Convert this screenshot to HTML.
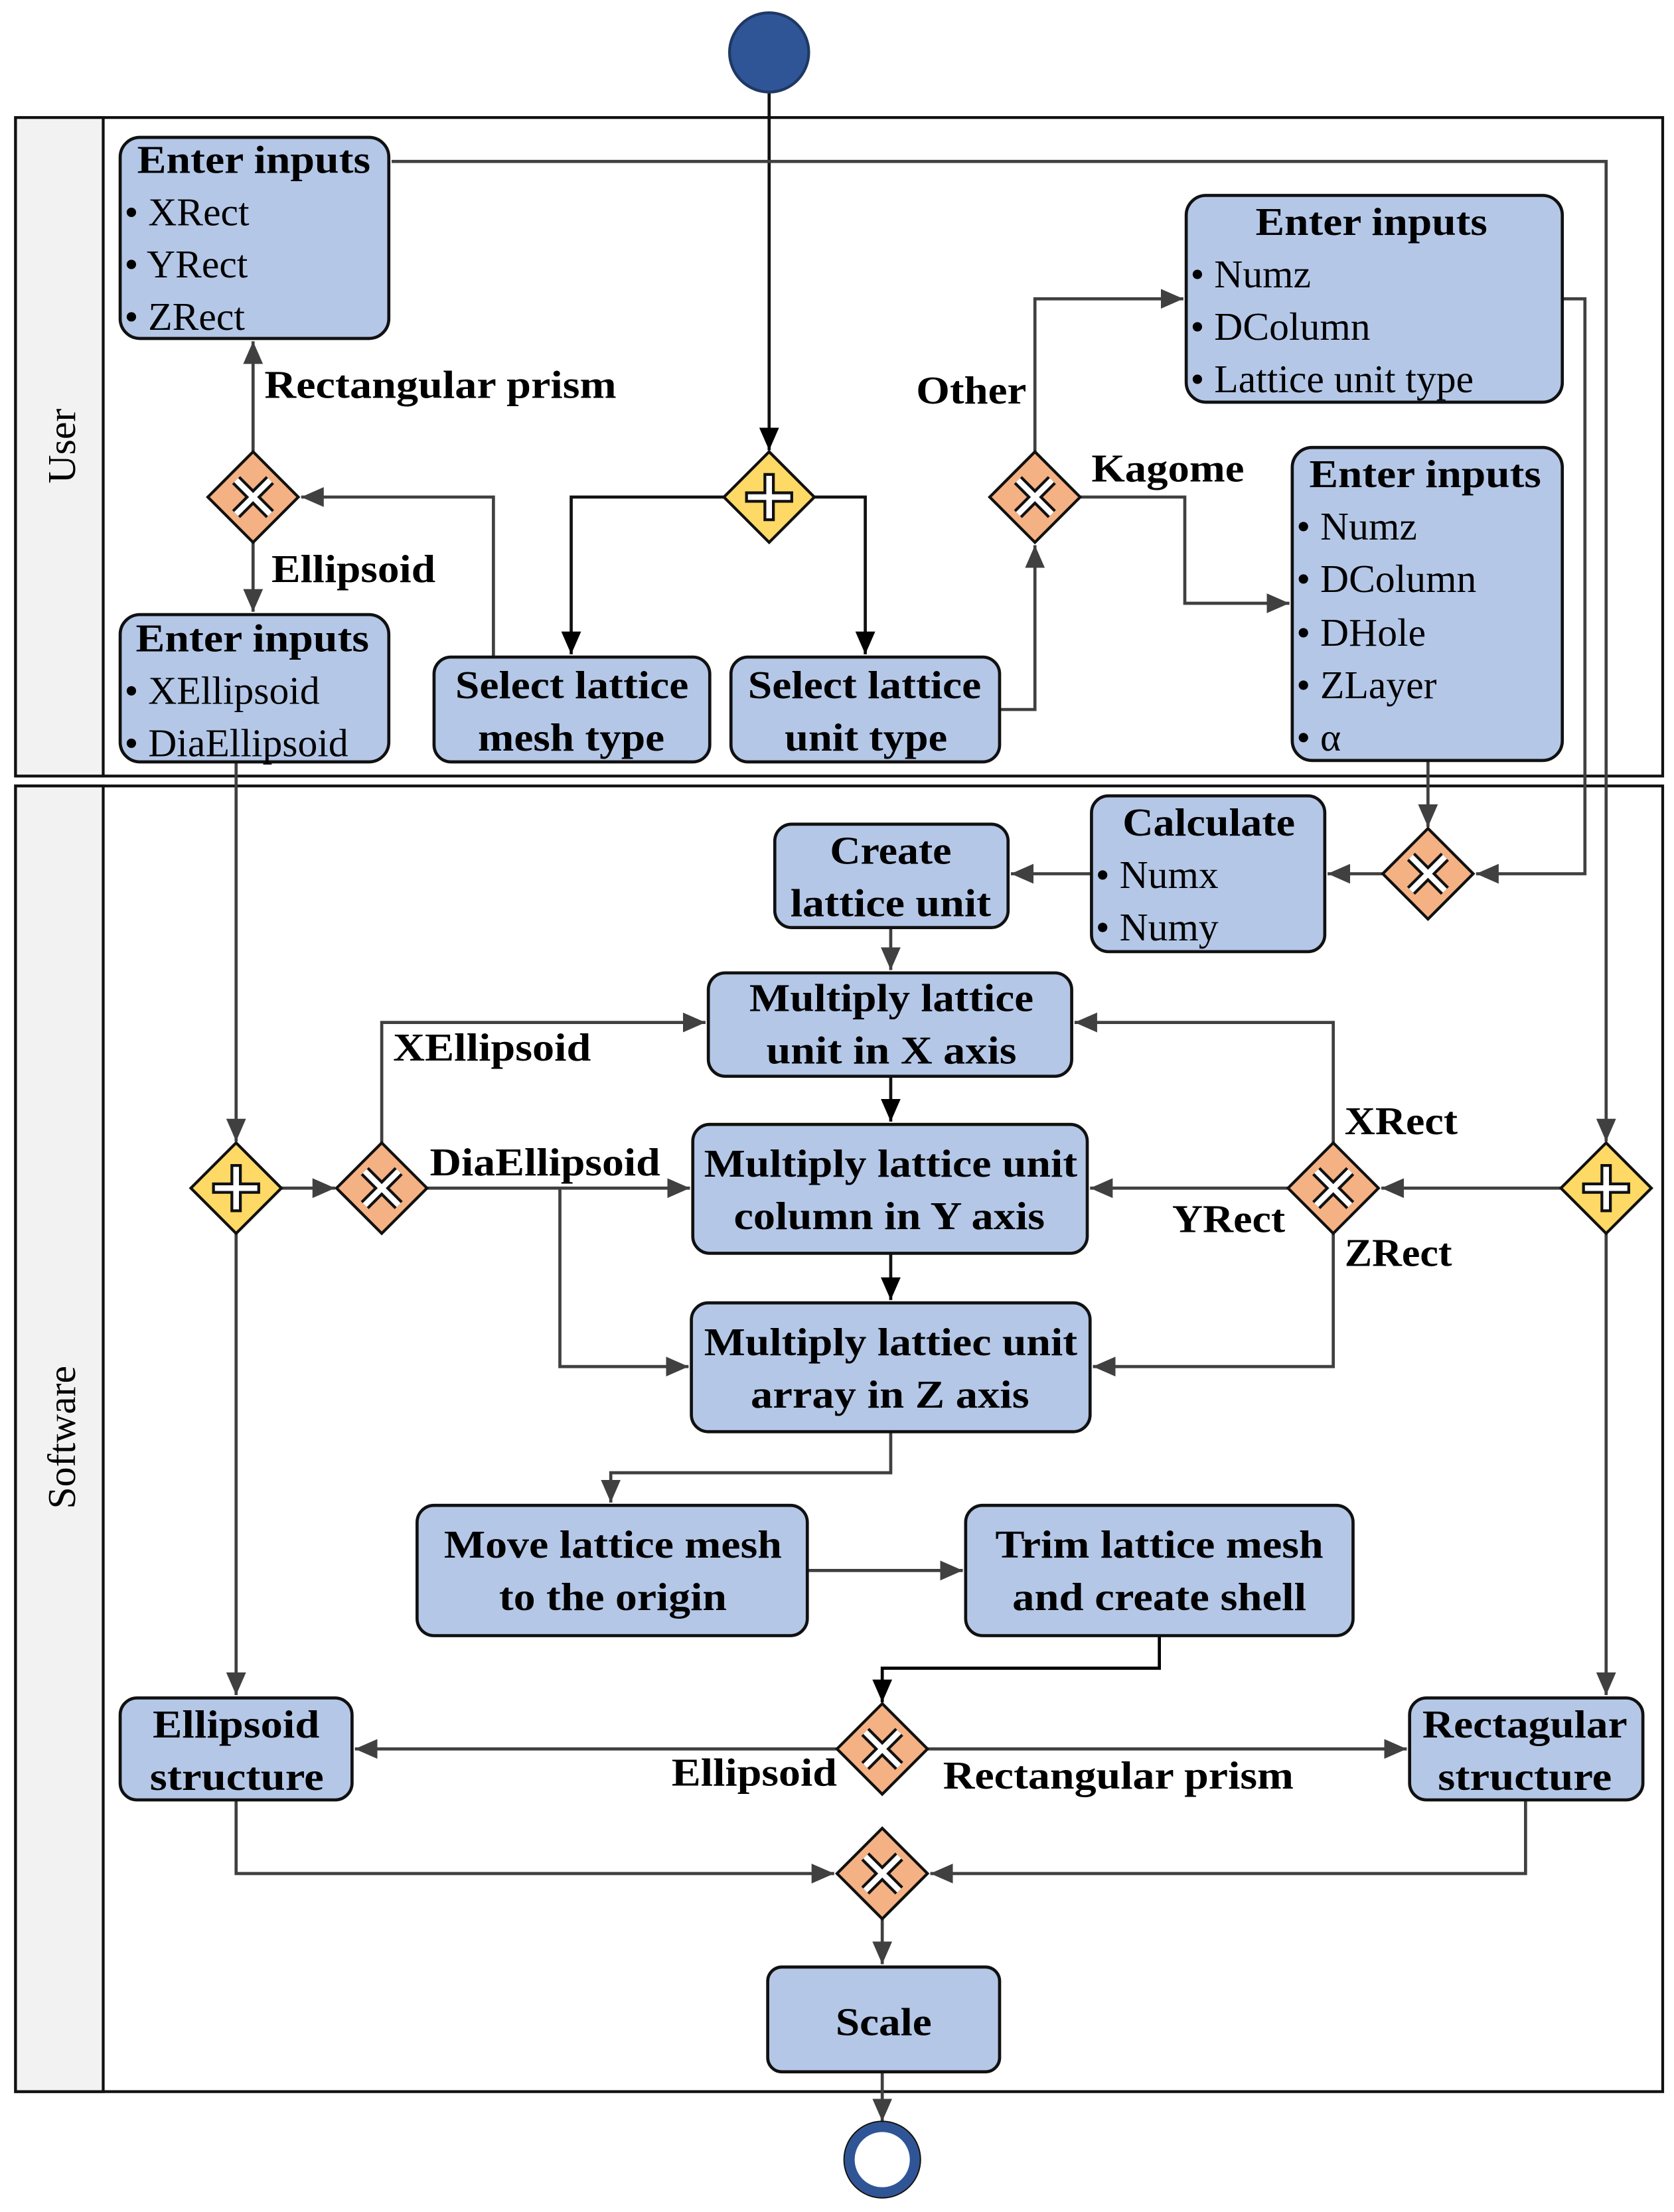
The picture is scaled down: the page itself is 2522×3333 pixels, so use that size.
<!DOCTYPE html>
<html><head><meta charset="utf-8"><style>html,body{margin:0;padding:0;background:#fff}svg{display:block}</style></head>
<body>
<svg width="2522" height="3333" viewBox="0 0 1184 1562" preserveAspectRatio="none" xmlns="http://www.w3.org/2000/svg" font-family="Liberation Serif, serif">
<defs>
<marker id="a" viewBox="0 0 10 10" refX="10" refY="5" markerWidth="5" markerHeight="5" orient="auto" markerUnits="userSpaceOnUse" style="overflow:visible">
<path d="M0,0 L10,5 L0,10 z" fill="#404040" transform="scale(1.5) translate(-3.3,-1.7)"/>
</marker>
<marker id="b" viewBox="0 0 16 14" refX="16" refY="7" markerWidth="16" markerHeight="14" orient="auto" markerUnits="userSpaceOnUse">
<path d="M0,0 L16,7 L0,14 z" fill="#404040"/>
</marker>
<marker id="k" viewBox="0 0 16 14" refX="16" refY="7" markerWidth="16" markerHeight="14" orient="auto" markerUnits="userSpaceOnUse">
<path d="M0,0 L16,7 L0,14 z" fill="#000"/>
</marker>
</defs>
<rect width="1184" height="1562" fill="#fff"/>
<!-- pools -->
<rect x="11" y="83" width="1165" height="465" fill="#fff" stroke="#111" stroke-width="2"/>
<rect x="11" y="83" width="62" height="465" fill="#f2f2f2" stroke="#111" stroke-width="2"/>
<rect x="11" y="555" width="1165" height="922" fill="#fff" stroke="#111" stroke-width="2"/>
<rect x="11" y="555" width="62" height="922" fill="#f2f2f2" stroke="#111" stroke-width="2"/>
<text transform="translate(53,315) rotate(-90)" text-anchor="middle" font-size="28">User</text>
<text transform="translate(53,1015) rotate(-90)" text-anchor="middle" font-size="28">Software</text>

<!-- connectors -->
<g fill="none" stroke="#404040" stroke-width="2.2">
<path d="M544,65 V318" stroke="#111" marker-end="url(#k)"/>
<path d="M512,351 H404 V462" stroke="#111" marker-end="url(#k)"/>
<path d="M576,351 H612 V462" stroke="#111" marker-end="url(#k)"/>
<path d="M349,464 V351 H213" marker-end="url(#b)"/>
<path d="M179,319 V241" marker-end="url(#b)"/>
<path d="M179,383 V432" marker-end="url(#b)"/>
<path d="M277,114 H1136 V806" marker-end="url(#b)"/>
<path d="M707,501 H732 V385" marker-end="url(#b)"/>
<path d="M732,319 V211 H837" marker-end="url(#b)"/>
<path d="M764,351 H838 V426 H912" marker-end="url(#b)"/>
<path d="M1105,211 H1121 V617 H1044" marker-end="url(#b)"/>
<path d="M1010,537 V584" marker-end="url(#b)"/>
<path d="M978,617 H939" marker-end="url(#b)"/>
<path d="M772,617 H715" marker-end="url(#b)"/>
<path d="M630,655 V685" marker-end="url(#b)"/>
<path d="M630,760 V792" stroke="#111" marker-end="url(#k)"/>
<path d="M630,885 V918" stroke="#111" marker-end="url(#k)"/>
<path d="M167,538 V806" marker-end="url(#b)"/>
<path d="M199,839 H237" marker-end="url(#b)"/>
<path d="M270,807 V722 H499" marker-end="url(#b)"/>
<path d="M302,839 H488" marker-end="url(#b)"/>
<path d="M396,839 V965 H487" marker-end="url(#b)"/>
<path d="M943,807 V722 H760" marker-end="url(#b)"/>
<path d="M911,839 H771" marker-end="url(#b)"/>
<path d="M943,871 V965 H773" marker-end="url(#b)"/>
<path d="M1104,839 H977" marker-end="url(#b)"/>
<path d="M1136,871 V1197" marker-end="url(#b)"/>
<path d="M167,871 V1197" marker-end="url(#b)"/>
<path d="M630,1011 V1040 H432 V1061" marker-end="url(#b)"/>
<path d="M571,1109 H681" marker-end="url(#b)"/>
<path d="M820,1155 V1178 H624 V1202" stroke="#000" marker-end="url(#k)"/>
<path d="M592,1235 H251" marker-end="url(#b)"/>
<path d="M656,1235 H995" marker-end="url(#b)"/>
<path d="M167,1271 V1323 H590" marker-end="url(#b)"/>
<path d="M1079,1271 V1323 H658" marker-end="url(#b)"/>
<path d="M624,1355 V1387" marker-end="url(#b)"/>
<path d="M624,1463 V1498" marker-end="url(#b)"/>
</g>

<!-- start / end -->
<circle cx="544" cy="37" r="28" fill="#2f5597" stroke="#1f3864" stroke-width="2"/>
<circle cx="624" cy="1525" r="23" fill="#fff" stroke="#2f5597" stroke-width="7"/>
<circle cx="624" cy="1525" r="27" fill="none" stroke="#111" stroke-width="1"/>

<!-- boxes -->
<g fill="#b4c7e7" stroke="#111" stroke-width="2.2">
<rect x="85" y="97" width="190" height="142" rx="14"/>
<rect x="839" y="138" width="266" height="146" rx="14"/>
<rect x="914" y="316" width="191" height="221" rx="14"/>
<rect x="85" y="434" width="190" height="104" rx="14"/>
<rect x="307" y="464" width="195" height="74" rx="12"/>
<rect x="517" y="464" width="190" height="74" rx="12"/>
<rect x="772" y="562" width="165" height="110" rx="12"/>
<rect x="548" y="582" width="165" height="73" rx="12"/>
<rect x="501" y="687" width="257" height="73" rx="12"/>
<rect x="490" y="794" width="279" height="91" rx="12"/>
<rect x="489" y="920" width="282" height="91" rx="12"/>
<rect x="295" y="1063" width="276" height="92" rx="12"/>
<rect x="683" y="1063" width="274" height="92" rx="12"/>
<rect x="85" y="1199" width="164" height="72" rx="12"/>
<rect x="997" y="1199" width="165" height="72" rx="12"/>
<rect x="543" y="1389" width="164" height="74" rx="10"/>
</g>

<!-- gateways -->
<g stroke="#111" stroke-width="2">
<g id="gx">
</g>
</g>
<g stroke-width="2">
<!-- XOR gateways -->
<g transform="translate(179,351)"><path d="M0,-32 L32,0 L0,32 L-32,0 z" fill="#f4b183" stroke="#111"/><path d="M-12,-12 L12,12 M12,-12 L-12,12" stroke="#111" stroke-width="8"/><path d="M-12,-12 L12,12 M12,-12 L-12,12" stroke="#fff" stroke-width="4"/></g>
<g transform="translate(732,351)"><path d="M0,-32 L32,0 L0,32 L-32,0 z" fill="#f4b183" stroke="#111"/><path d="M-12,-12 L12,12 M12,-12 L-12,12" stroke="#111" stroke-width="8"/><path d="M-12,-12 L12,12 M12,-12 L-12,12" stroke="#fff" stroke-width="4"/></g>
<g transform="translate(1010,617)"><path d="M0,-32 L32,0 L0,32 L-32,0 z" fill="#f4b183" stroke="#111"/><path d="M-12,-12 L12,12 M12,-12 L-12,12" stroke="#111" stroke-width="8"/><path d="M-12,-12 L12,12 M12,-12 L-12,12" stroke="#fff" stroke-width="4"/></g>
<g transform="translate(270,839)"><path d="M0,-32 L32,0 L0,32 L-32,0 z" fill="#f4b183" stroke="#111"/><path d="M-12,-12 L12,12 M12,-12 L-12,12" stroke="#111" stroke-width="8"/><path d="M-12,-12 L12,12 M12,-12 L-12,12" stroke="#fff" stroke-width="4"/></g>
<g transform="translate(943,839)"><path d="M0,-32 L32,0 L0,32 L-32,0 z" fill="#f4b183" stroke="#111"/><path d="M-12,-12 L12,12 M12,-12 L-12,12" stroke="#111" stroke-width="8"/><path d="M-12,-12 L12,12 M12,-12 L-12,12" stroke="#fff" stroke-width="4"/></g>
<g transform="translate(624,1235)"><path d="M0,-32 L32,0 L0,32 L-32,0 z" fill="#f4b183" stroke="#111"/><path d="M-12,-12 L12,12 M12,-12 L-12,12" stroke="#111" stroke-width="8"/><path d="M-12,-12 L12,12 M12,-12 L-12,12" stroke="#fff" stroke-width="4"/></g>
<g transform="translate(624,1323)"><path d="M0,-32 L32,0 L0,32 L-32,0 z" fill="#f4b183" stroke="#111"/><path d="M-12,-12 L12,12 M12,-12 L-12,12" stroke="#111" stroke-width="8"/><path d="M-12,-12 L12,12 M12,-12 L-12,12" stroke="#fff" stroke-width="4"/></g>
<!-- AND gateways -->
<g transform="translate(544,351)"><path d="M0,-32 L32,0 L0,32 L-32,0 z" fill="#ffd966" stroke="#111"/><path d="M0,-17 V17 M-17,0 H17" stroke="#111" stroke-width="8"/><path d="M0,-15 V15 M-15,0 H15" stroke="#fff" stroke-width="4"/></g>
<g transform="translate(167,839)"><path d="M0,-32 L32,0 L0,32 L-32,0 z" fill="#ffd966" stroke="#111"/><path d="M0,-17 V17 M-17,0 H17" stroke="#111" stroke-width="8"/><path d="M0,-15 V15 M-15,0 H15" stroke="#fff" stroke-width="4"/></g>
<g transform="translate(1136,839)"><path d="M0,-32 L32,0 L0,32 L-32,0 z" fill="#ffd966" stroke="#111"/><path d="M0,-17 V17 M-17,0 H17" stroke="#111" stroke-width="8"/><path d="M0,-15 V15 M-15,0 H15" stroke="#fff" stroke-width="4"/></g>
</g>

<!-- texts -->
<g font-size="28" font-weight="bold" fill="#000" lengthAdjust="spacingAndGlyphs">
<text x="97" y="122" textLength="165" lengthAdjust="spacingAndGlyphs">Enter inputs</text>
<text x="888" y="166" textLength="164" lengthAdjust="spacingAndGlyphs">Enter inputs</text>
<text x="926" y="344" textLength="164" lengthAdjust="spacingAndGlyphs">Enter inputs</text>
<text x="96" y="460" textLength="165" lengthAdjust="spacingAndGlyphs">Enter inputs</text>
<text x="322" y="493" textLength="165" lengthAdjust="spacingAndGlyphs">Select lattice</text>
<text x="338" y="530" textLength="132" lengthAdjust="spacingAndGlyphs">mesh type</text>
<text x="529" y="493" textLength="165" lengthAdjust="spacingAndGlyphs">Select lattice</text>
<text x="555" y="530" textLength="115" lengthAdjust="spacingAndGlyphs">unit type</text>
<text x="187" y="281" textLength="249" lengthAdjust="spacingAndGlyphs">Rectangular prism</text>
<text x="192" y="411" textLength="116" lengthAdjust="spacingAndGlyphs">Ellipsoid</text>
<text x="648" y="285" textLength="78" lengthAdjust="spacingAndGlyphs">Other</text>
<text x="772" y="340" textLength="108" lengthAdjust="spacingAndGlyphs">Kagome</text>
<text x="794" y="590" textLength="122" lengthAdjust="spacingAndGlyphs">Calculate</text>
<text x="587" y="610" textLength="86" lengthAdjust="spacingAndGlyphs">Create</text>
<text x="559" y="647" textLength="142" lengthAdjust="spacingAndGlyphs">lattice unit</text>
<text x="530" y="714" textLength="201" lengthAdjust="spacingAndGlyphs">Multiply lattice</text>
<text x="542" y="751" textLength="177" lengthAdjust="spacingAndGlyphs">unit in X axis</text>
<text x="498" y="831" textLength="264" lengthAdjust="spacingAndGlyphs">Multiply lattice unit</text>
<text x="519" y="868" textLength="220" lengthAdjust="spacingAndGlyphs">column in Y axis</text>
<text x="498" y="957" textLength="264" lengthAdjust="spacingAndGlyphs">Multiply lattiec unit</text>
<text x="531" y="994" textLength="197" lengthAdjust="spacingAndGlyphs">array in Z axis</text>
<text x="278" y="749" textLength="140" lengthAdjust="spacingAndGlyphs">XEllipsoid</text>
<text x="304" y="830" textLength="163" lengthAdjust="spacingAndGlyphs">DiaEllipsoid</text>
<text x="951" y="801" textLength="80" lengthAdjust="spacingAndGlyphs">XRect</text>
<text x="829" y="870" textLength="80" lengthAdjust="spacingAndGlyphs">YRect</text>
<text x="951" y="894" textLength="76" lengthAdjust="spacingAndGlyphs">ZRect</text>
<text x="314" y="1100" textLength="239" lengthAdjust="spacingAndGlyphs">Move lattice mesh</text>
<text x="353" y="1137" textLength="161" lengthAdjust="spacingAndGlyphs">to the origin</text>
<text x="704" y="1100" textLength="232" lengthAdjust="spacingAndGlyphs">Trim lattice mesh</text>
<text x="716" y="1137" textLength="208" lengthAdjust="spacingAndGlyphs">and create shell</text>
<text x="108" y="1227" textLength="118" lengthAdjust="spacingAndGlyphs">Ellipsoid</text>
<text x="106" y="1264" textLength="123" lengthAdjust="spacingAndGlyphs">structure</text>
<text x="1006" y="1227" textLength="145" lengthAdjust="spacingAndGlyphs">Rectagular</text>
<text x="1017" y="1264" textLength="123" lengthAdjust="spacingAndGlyphs">structure</text>
<text x="475" y="1261" textLength="117" lengthAdjust="spacingAndGlyphs">Ellipsoid</text>
<text x="667" y="1263" textLength="248" lengthAdjust="spacingAndGlyphs">Rectangular prism</text>
<text x="591" y="1437" textLength="68" lengthAdjust="spacingAndGlyphs">Scale</text>
</g>
<g font-size="28" fill="#000">
<text x="88" y="159">• XRect</text>
<text x="88" y="196">• YRect</text>
<text x="88" y="233">• ZRect</text>
<text x="842" y="203">• Numz</text>
<text x="842" y="240">• DColumn</text>
<text x="842" y="277">• Lattice unit type</text>
<text x="917" y="381">• Numz</text>
<text x="917" y="418">• DColumn</text>
<text x="917" y="456">• DHole</text>
<text x="917" y="493">• ZLayer</text>
<text x="917" y="530">• α</text>
<text x="88" y="497">• XEllipsoid</text>
<text x="88" y="534">• DiaEllipsoid</text>
<text x="775" y="627">• Numx</text>
<text x="775" y="664">• Numy</text>
</g>
</svg>
</body></html>
